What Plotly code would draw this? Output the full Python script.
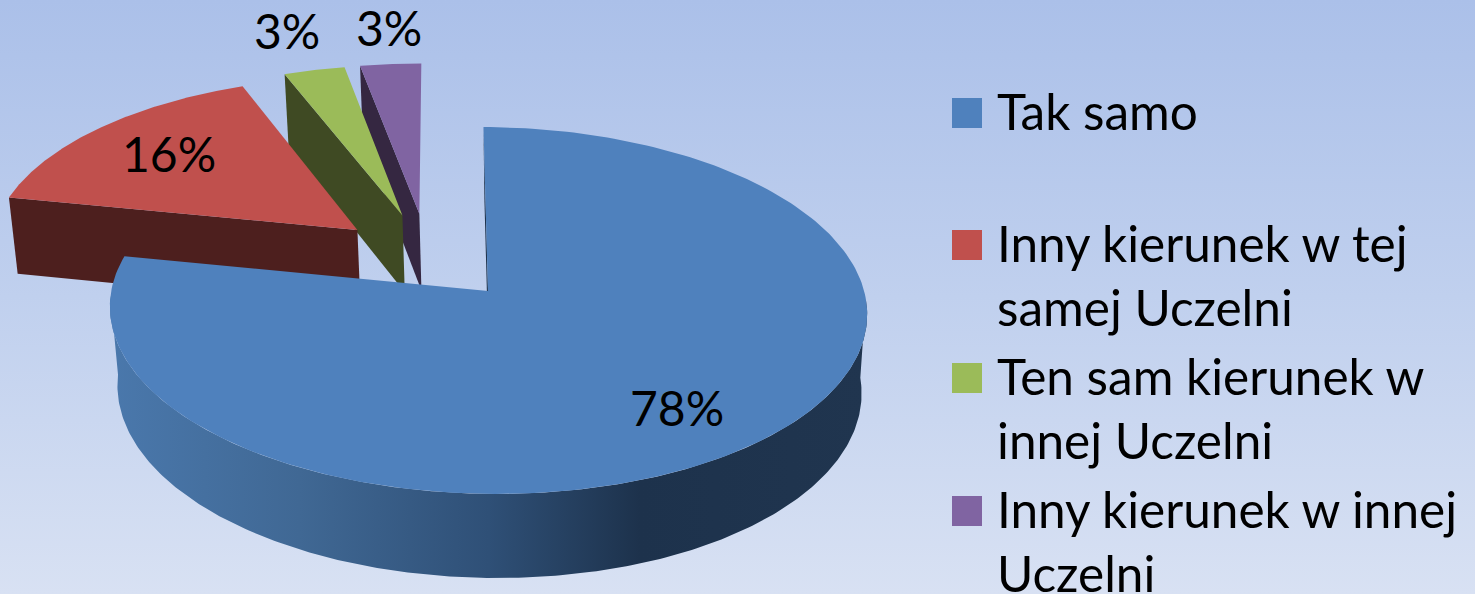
import numpy as np
import plotly.graph_objects as go

categories = ["Tak samo", "Inny kierunek w tej<br>samej Uczelni", "Ten sam kierunek w<br>innej Uczelni", "Inny kierunek w innej<br>Uczelni"]
values = [78, 16, 3, 3]
colors = ["#4F81BD", "#C0504D", "#9BBB59", "#8064A2"]
wall_colors = ["#1F344E", "#4D1F1E", "#3F4A23", "#352741"]
explode = [(0.0, 0.0), (-0.355, 0.346), (-0.232, 0.433), (-0.185, 0.444)]
label_pos = [(677, 407), (169, 153), (287, 30), (389, 27)]
legend_y = [98, 230, 363, 496]

W, H = 1475, 594
CX, CY = 488.0, 291.0
A, B = 376.5, 181.4
P, R_, C = 0.106, 0.0175, 80.2
SH, TILT, SZ = -5.0, 1.5, 1.0


def project(X, Y, Z=0.0):
    w = 1 + P * np.asarray(Y) + R_ * Z
    return CX + (A * np.asarray(X) + SH * np.asarray(Y) + SZ * Z) / w, CY + (-B * np.asarray(Y) + TILT * np.asarray(X) + C * Z) / w


def slice_geom(start, end, ex):
    t = np.radians(np.linspace(start, end, 240))
    return ex[0] + np.sin(t), ex[1] + np.cos(t)


fig = go.Figure()
# background gradient
fig.add_trace(go.Scatter(x=[0, W, W, 0, 0], y=[0, 0, H, H, 0], mode="lines", line=dict(width=0), fill="toself",
                         fillgradient=dict(type="vertical", start=0, stop=H,
                                           colorscale=[[0, "#ABC0E9"], [0.5, "#C0D0EE"], [1, "#D8E1F3"]]),
                         hoverinfo="skip"))

starts = np.concatenate([[0], np.cumsum(values)[:-1]]) * 3.6
ends = np.cumsum(values) * 3.6

for i in [3, 2, 1, 0]:
    s, e, ex = starts[i], ends[i], explode[i]
    X, Y = slice_geom(s, e, ex)
    # radial wall facing the viewer
    wx, wy = np.array([ex[0], X[0]]), np.array([ex[1], Y[0]])
    tx, ty = project(wx, wy)
    bx, by = project(wx, wy, 1.0)
    fig.add_trace(go.Scatter(x=np.r_[tx, bx[::-1]], y=np.r_[ty, by[::-1]], mode="lines", line=dict(width=0),
                             fill="toself", fillcolor=wall_colors[i], hoverinfo="skip"))
    if i == 0:
        # outer rim, front half only (silhouette runs from tangent to tangent)
        RX, RY = slice_geom(92, 268, ex)
        tx, ty = project(RX, RY)
        bx, by = project(RX, RY, 1.0)
        fig.add_trace(go.Scatter(x=np.r_[tx, bx[::-1]], y=np.r_[ty, by[::-1]], mode="lines", line=dict(width=0),
                                 fill="toself", hoverinfo="skip",
                                 fillgradient=dict(type="horizontal", start=110, stop=867,
                                                   colorscale=[[0, "#4A78AC"], [0.25, "#406894"], [0.5, "#2F5077"],
                                                               [0.7, "#1D324C"], [1, "#20354F"]])))
    # top face
    tx, ty = project(np.r_[ex[0], X, ex[0]], np.r_[ex[1], Y, ex[1]])
    fig.add_trace(go.Scatter(x=tx, y=ty, mode="lines", line=dict(width=0), fill="toself", fillcolor=colors[i],
                             name=categories[i].replace("<br>", " "), hoverinfo="name"))

FONT = "Lato"
for v, (lx, ly) in zip(values, label_pos):
    fig.add_annotation(x=lx, y=ly, text=f"{v}%", showarrow=False, xanchor="center", yanchor="middle",
                       font=dict(family=FONT, size=48, color="black"))

for c, col, ly in zip(categories, colors, legend_y):
    fig.add_shape(type="rect", x0=952, x1=982, y0=ly, y1=ly + 30, fillcolor=col, line_width=0, layer="above")
    fig.add_annotation(x=997, y=ly - 17, text=c, showarrow=False, xanchor="left", yanchor="top", align="left",
                       font=dict(family=FONT, size=49.5, color="black"), borderpad=0, borderwidth=0)

fig.update_layout(width=W, height=H, margin=dict(l=0, r=0, t=0, b=0), showlegend=False,
                  paper_bgcolor="#C0D0EE", plot_bgcolor="#C0D0EE",
                  xaxis=dict(range=[0, W], visible=False, fixedrange=True),
                  yaxis=dict(range=[H, 0], visible=False, fixedrange=True))
fig.write_html("out.html", config={"displayModeBar": False},
               post_script="document.body.style.margin='0';document.body.style.overflow='hidden';")
